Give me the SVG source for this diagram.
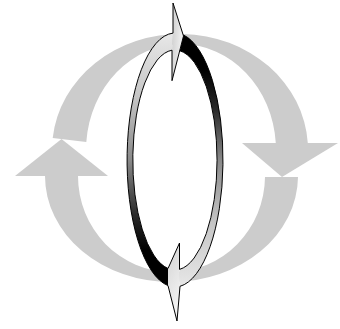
<svg xmlns="http://www.w3.org/2000/svg" width="340" height="329" viewBox="0 0 340 329">
  <defs>
    <linearGradient id="gLeft" gradientUnits="userSpaceOnUse" x1="0" y1="33" x2="0" y2="286">
      <stop offset="0" stop-color="#e8e8e8"/>
      <stop offset="0.25" stop-color="#c6c6c6"/>
      <stop offset="0.5" stop-color="#8a8a8a"/>
      <stop offset="0.72" stop-color="#2a2a2a"/>
      <stop offset="0.86" stop-color="#000"/>
      <stop offset="1" stop-color="#000"/>
    </linearGradient>
    <linearGradient id="gRight" gradientUnits="userSpaceOnUse" x1="0" y1="33" x2="0" y2="288">
      <stop offset="0" stop-color="#000"/>
      <stop offset="0.14" stop-color="#000"/>
      <stop offset="0.3" stop-color="#2a2a2a"/>
      <stop offset="0.5" stop-color="#8a8a8a"/>
      <stop offset="0.75" stop-color="#c6c6c6"/>
      <stop offset="1" stop-color="#e8e8e8"/>
    </linearGradient>
    <linearGradient id="gHeadTop" x1="0" y1="0" x2="1" y2="0.3">
      <stop offset="0" stop-color="#cdcdcd"/>
      <stop offset="1" stop-color="#f2f2f2"/>
    </linearGradient>
    <linearGradient id="gHeadBot" x1="0" y1="0" x2="0.3" y2="1">
      <stop offset="0" stop-color="#d2d2d2"/>
      <stop offset="1" stop-color="#f4f4f4"/>
    </linearGradient>
  </defs>
  <style>
    .bg { fill: #cccccc; stroke: none; }
    .edge { fill: none; stroke: #000; stroke-width: 1; stroke-linejoin: miter; }
  </style>

  <g id="bg-arrow-upper">
    <path class="bg" d="M52.7,138 A128,116 0 0 1 307.8,143 L275.8,143 A95,106 0 0 0 86.3,142 Z"/>
    <polygon class="bg" points="242,143 338,143 282,177"/>
  </g>
  <g id="bg-arrow-lower">
    <path class="bg" d="M45,176 A126.5,106 0 0 0 171.5,282 A126.5,106 0 0 0 298,177 L265,177 A93.5,96 0 0 1 171.5,272 A93.5,96 0 0 1 78,176 Z"/>
    <polygon class="bg" points="15,176 108,176 61.5,139"/>
  </g>

  <g id="ring-left-band">
    <path fill="url(#gLeft)" d="M173,33.1 A48,127 0 0 0 168,285.6 L168,268.5 A42,110 0 0 1 172,50.2 Z"/>
  </g>
  <g id="ring-right-band">
    <path fill="url(#gRight)" d="M183.5,35 A48,127 0 0 1 180,286.3 L179.5,269.4 A42,110 0 0 0 179.7,50.7 Z"/>
  </g>
  <g id="ring-head-top">
    <polygon fill="url(#gHeadTop)" points="173,33.1 173,3 183.5,36 172,80.7 172,50.2"/>
  </g>
  <g id="ring-head-bottom">
    <polygon fill="url(#gHeadBot)" points="168,268.5 179.5,243 179.5,269.4 180,286.3 177,321 168,285.6"/>
  </g>

  <g id="connectors">
    <path class="edge" d="M173,33.1 A48,127 0 0 0 168,285.6"/>
    <path class="edge" d="M168,268.5 A42,110 0 0 1 172,50.2"/>
    <path class="edge" d="M183.5,35 A48,127 0 0 1 180,286.3"/>
    <path class="edge" d="M179.5,269.4 A42,110 0 0 0 179.7,50.7"/>
    <path class="edge" d="M173,33.1 L173,3 L183.5,36 L172,80.7 L172,50.2"/>
    <path class="edge" d="M168,268.5 L179.5,243 L179.5,269.4"/>
    <path class="edge" d="M180,286.3 L177,321 L168,285.6"/>
  </g>
</svg>
